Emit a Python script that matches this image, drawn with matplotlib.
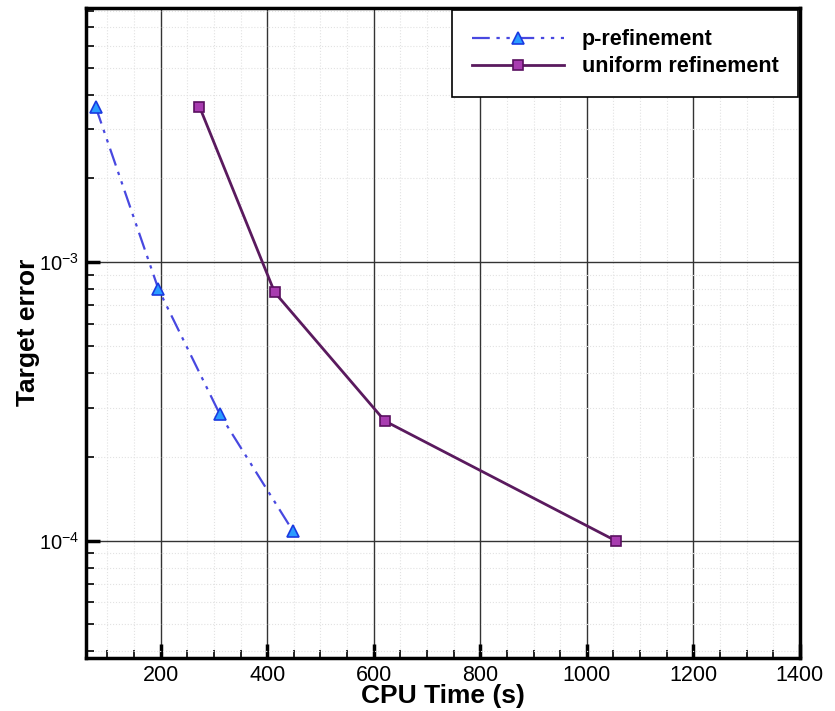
import numpy as np
import matplotlib
matplotlib.use("Agg")
import matplotlib.pyplot as plt
from matplotlib.ticker import MultipleLocator, LogLocator

P_TIME = [78, 196, 311, 448]
P_ERROR = [3.62e-3, 8.0e-4, 2.85e-4, 1.086e-4]

U_TIME = [273, 414, 621, 1054]
U_ERROR = [3.62e-3, 7.8e-4, 2.69e-4, 1.0e-4]

X_TICKS = [200, 400, 600, 800, 1000, 1200, 1400]

plt.rcParams["font.family"] = ["Liberation Sans", "DejaVu Sans"]
plt.rcParams["mathtext.default"] = "regular"


def draw_series(ax):
    """Plots both refinement curves."""
    ax.plot(P_TIME, P_ERROR, color="#4848e0", lw=1.6,
            dashes=(8, 3, 1.5, 3, 1.5, 3),
            marker="^", ms=8, mfc="#2a9cff", mec="#1a3ae0", mew=1.2,
            label="p-refinement", zorder=3)
    ax.plot(U_TIME, U_ERROR, color="#5a1a5e", lw=2.0, ls="-",
            marker="s", ms=7.5, mfc="#a83cb0", mec="#5a1060", mew=1.2,
            label="uniform refinement", zorder=3)


def style_axes(ax):
    """Tecplot-like frame, ticks and grid."""
    ax.set_yscale("log")
    ax.set_xlim(60, 1400)
    ax.set_ylim(3.8e-5, 8.2e-3)
    ax.set_xticks(X_TICKS)
    ax.xaxis.set_minor_locator(MultipleLocator(50))
    ax.yaxis.set_minor_locator(LogLocator(base=10, subs=np.arange(2, 10)))

    for s in ax.spines.values():
        s.set_linewidth(2.5)
    ax.tick_params(which="major", direction="in", length=10, width=2.5,
                   labelsize=15.5, pad=5, top=False, right=False)
    ax.tick_params(axis="y", which="major", labelsize=14.5)
    ax.tick_params(which="minor", direction="in", length=6, width=1.2,
                   top=False, right=False)

    ax.grid(which="major", color="#333333", lw=1.0)
    ax.grid(which="minor", color="#e2e2e2", lw=0.8, ls=":")

    ax.set_xlabel("CPU Time (s)", fontsize=19, fontweight="bold", labelpad=-1)
    ax.set_ylabel("Target error", fontsize=19, fontweight="bold", labelpad=-1)

    leg = ax.legend(loc="upper right", borderaxespad=0.1, fancybox=False,
                    framealpha=1, edgecolor="black", handlelength=4.3,
                    handletextpad=0.8, borderpad=0.9, labelspacing=0.28,
                    prop={"weight": "bold", "size": 15.5})
    leg.get_frame().set_linewidth(1.2)


def main():
    fig = plt.figure(figsize=(8.35, 7.11), dpi=100)
    ax = fig.add_axes([0.103, 0.075, 0.855, 0.914])
    draw_series(ax)
    style_axes(ax)
    fig.savefig("out.png", dpi=100)


if __name__ == "__main__":
    main()
